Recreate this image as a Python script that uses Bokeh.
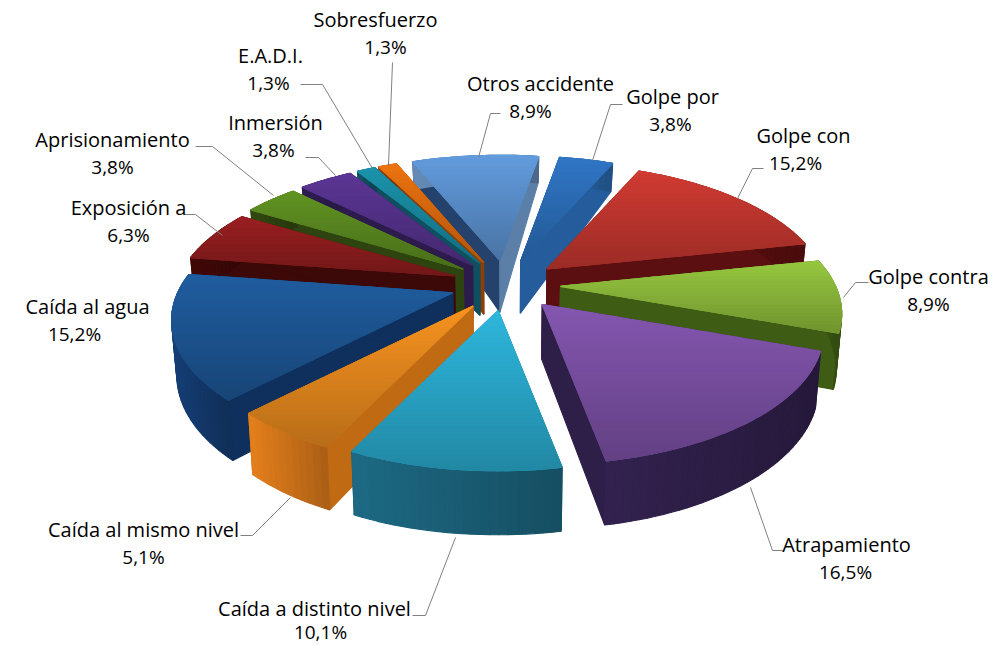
import numpy as np
from bokeh.plotting import figure
from bokeh.models import Range1d, ColumnDataSource
from bokeh.core.properties import value
from bokeh.embed import file_html
from bokeh.resources import INLINE

categories = ["Golpe por", "Golpe con", "Golpe contra", "Atrapamiento", "Caída a distinto nivel",
              "Caída al mismo nivel", "Caída al agua", "Exposición a", "Aprisionamiento", "Inmersión",
              "E.A.D.I.", "Sobresfuerzo", "Otros accidente"]
values = [3.8, 15.2, 8.9, 16.5, 10.1, 5.1, 15.2, 6.3, 3.8, 3.8, 1.3, 1.3, 8.9]
value_labels = ["3,8%", "15,2%", "8,9%", "16,5%", "10,1%", "5,1%", "15,2%", "6,3%", "3,8%", "3,8%", "1,3%", "1,3%", "8,9%"]

top_colors = ["#2f74c2", "#cc3a32", "#93c23e", "#8255ad", "#2db3d8", "#f29020", "#1f5b9c", "#951f20",
              "#5f9022", "#5a3592", "#1a90a8", "#e8710f", "#6098d8"]
wall_colors = ["#27609f", "#5c0f10", "#3e5c14", "#2e1f48", "#1b6078", "#d0741a", "#14396b", "#3d0808",
               "#2e4410", "#2c1b4c", "#0f4f5f", "#8a4008", "#5c7fa8"]
cut_first_colors = ["#245c9c", "#5c0f10", "#3e5c14", "#2e1f48", "#0f5a6c", "#c06a14", "#0f2f5c", "#3d0808",
                    "#2e4410", "#2c1b4c", "#0f4f5f", "#8a4008", "#24426b"]
cut_last_colors = ["#245c9c", "#5c0f10", "#3e5c14", "#2e1f48", "#0f5a6c", "#c06a14", "#0f2f5c", "#3d0808",
                   "#2e4410", "#2c1b4c", "#0f4f5f", "#8a4008", "#5c7fa8"]

label_pos = [(672, 96), (803, 135), (928, 276), (846, 544), (314, 608), (143, 529), (87, 306),
             (128, 207), (112, 139), (275, 122), (270, 55), (375, 19), (540, 83)]
value_pos = [(670, 123), (795, 162), (928, 303), (845, 571), (320, 631), (143, 556), (74, 333),
             (128, 234), (112, 166), (273, 149), (268, 82), (385, 46), (530, 110)]
leaders = [[(622, 104), (610, 104), (592, 160)], [(763, 168), (752, 168), (737, 198)],
           [(868, 282), (855, 282), (843, 297)], [(782, 550), (772, 550), (750, 487)],
           [(412, 615), (425, 615), (455, 537)], [(240, 535), (252, 535), (290, 497)],
           [], [(183, 214), (195, 214), (222, 235)], [(195, 146), (212, 146), (273, 195)],
           [(305, 157), (318, 157), (335, 175)], [(300, 84), (322, 84), (372, 168)],
           [(392, 62), (388, 165)], [(500, 113), (490, 113), (478, 157)]]

# projection of the tilted pie
CX, CY = 505.0, 284.0
RX, KR, PERSP = 275.0, 126.8, 0.2076
EXPLODE = 0.2
START_DEG = 9.8


def project(deg, radius=1.0):
    a = np.radians(deg)
    X, Y = radius * np.sin(a), -radius * np.cos(a)
    w = 1.0 / (1.0 - PERSP * Y)
    return X * RX * w, Y * KR * w


def depth(sy):
    return np.interp(sy, [155, 200, 260, 460], [26, 38, 52, 64])


def drop(pt):
    x, y = pt
    return (x - (x - CX) * 0.016, y + float(depth(y)))


def shade(col, f):
    rgb = [int(col[i:i + 2], 16) for i in (1, 3, 5)]
    rgb = [int(min(255, max(0, c * f))) for c in rgb]
    return "#%02x%02x%02x" % tuple(rgb)


def clip_band(poly, y0, y1):
    def clip(pts, inside, ylim):
        out = []
        for i in range(len(pts)):
            a, b = pts[i], pts[(i + 1) % len(pts)]
            ia, ib = inside(a), inside(b)
            if ia:
                out.append(a)
            if ia != ib:
                t = (ylim - a[1]) / (b[1] - a[1])
                out.append((a[0] + t * (b[0] - a[0]), ylim))
        return out
    pts = clip(poly, lambda q: q[1] >= y0, y0)
    if pts:
        pts = clip(pts, lambda q: q[1] <= y1, y1)
    return pts


total = sum(values)
angles = np.cumsum([0] + values) / total * 360 + START_DEG
slices = []
for i in range(len(values)):
    a0, a1 = angles[i], angles[i + 1]
    mid = (a0 + a1) / 2
    ax, ay = project(mid, EXPLODE)
    apex = (CX + ax, CY + ay)
    n = max(3, int((a1 - a0) / 1.5))
    arc = []
    for t in np.linspace(a0, a1, n + 1):
        dx, dy = project(t)
        arc.append((apex[0] + dx, apex[1] + dy))
    slices.append(dict(i=i, mid=mid, apex=apex, arc=arc, key=-np.cos(np.radians(mid))))

xs, ys, fills, widths = [], [], [], []


def add(poly, col, lw=1.2):
    xs.append([q[0] for q in poly])
    ys.append([q[1] for q in poly])
    fills.append(col)
    widths.append(lw)


for s in sorted(slices, key=lambda d: d["key"]):
    i, apex, arc = s["i"], s["apex"], s["arc"]
    # cut faces: the first one faces the earlier slice, the last one the next slice
    add([apex, arc[0], drop(arc[0]), drop(apex)], cut_first_colors[i])
    add([apex, arc[-1], drop(arc[-1]), drop(apex)], cut_last_colors[i])
    # outer wall
    xmin, xmax = min(q[0] for q in arc), max(q[0] for q in arc)
    for a, b in zip(arc[:-1], arc[1:]):
        u = ((a[0] + b[0]) / 2 - xmin) / max(1.0, xmax - xmin)
        add([a, b, drop(b), drop(a)], shade(wall_colors[i], 1.1 - 0.28 * u))
    # top face with vertical gradient
    poly = [apex] + arc
    ymin, ymax = min(q[1] for q in poly), max(q[1] for q in poly)
    add(poly, shade(top_colors[i], 0.9))
    y = ymin
    while y < ymax:
        band = clip_band(poly, y, min(y + 5, ymax))
        if len(band) >= 3:
            u = (y - ymin) / max(1.0, ymax - ymin)
            add(band, shade(top_colors[i], 1.02 - 0.26 * u))
        y += 4

p = figure(width=994, height=645, x_range=Range1d(0, 994), y_range=Range1d(645, 0),
           output_backend="svg", toolbar_location=None, min_border=0)
p.axis.visible = False
p.grid.visible = False
p.outline_line_color = None
p.background_fill_color = "white"

src = ColumnDataSource(dict(xs=xs, ys=ys, fill=fills, lw=widths))
p.patches("xs", "ys", source=src, fill_color="fill", line_color="fill", line_width="lw")

for pts in leaders:
    if pts:
        p.line([q[0] for q in pts], [q[1] for q in pts], line_color="#808080", line_width=1)

FONT = value("Open Sans")
p.text([q[0] for q in label_pos], [q[1] for q in label_pos], text=categories, text_font=FONT,
       text_font_size="20px", text_color="#000000", text_align="center", text_baseline="middle")
p.text([q[0] for q in value_pos], [q[1] for q in value_pos], text=value_labels, text_font=FONT,
       text_font_size="19px", text_color="#000000", text_align="center", text_baseline="middle")

open("out.html", "w").write(file_html(p, INLINE))
